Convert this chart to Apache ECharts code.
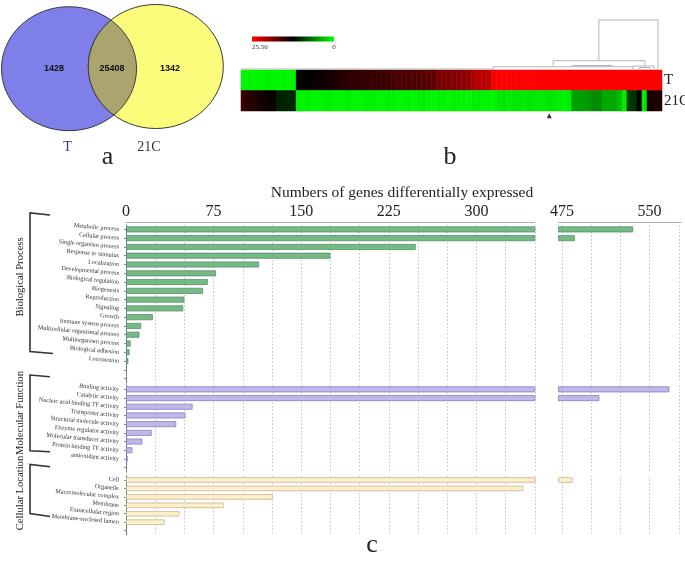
<!DOCTYPE html>
<html><head><meta charset="utf-8">
<script src="https://cdn.jsdelivr.net/npm/echarts@6/dist/echarts.min.js"></script>
<style>html,body{margin:0;padding:0;background:#fff}#c{width:685px;height:565px}</style>
</head><body><div id="c"></div>
<script>
// ---------- DATA ----------
// (a) Venn
const vennSets = ['T', '21C'];
const vennRegions = ['T only', 'T and 21C', '21C only'];
const vennCounts = [1428, 25408, 1342];

// (b) heatmap
const heatRows = ['T', '21C'];
const heatMin = 0;
const heatMax = 25.56;
const heatT = [
  0.4,0.6,0.3,0.5,0.4,0.7,0.5,0.3,0.6,0.4,0.5,
  12.9,13.0,13.0,13.1,13.4,13.6,13.8,14.0,14.3,14.8,
  15.0,15.1,15.2,15.3,15.4,15.5,15.6,15.8,16.0,16.1,
  16.3,16.4,16.5,16.7,16.8,17.0,17.2,17.5,18.8,19.0,
  19.1,19.3,19.5,19.6,20.0,21.5,21.8,22.0,22.2,
  25.4,25.5,25.5,25.5,25.4,25.5,25.5,25.5,25.5,25.4,
  25.5,25.5,25.5,25.5,25.5,25.4,25.5,25.5,25.5,25.5,
  25.5,25.5,25.4,25.5,25.5,25.5,25.5,25.5,25.5,25.5,
  25.4,25.5,25.5,25.5
];
const heat21C = [
  15.8,14.8,14.6,14.2,13.6,13.4,13.2,11.2,11.0,10.8,11.0,
  0.6,0.4,0.8,0.5,0.3,0.7,0.9,0.5,0.4,0.6,
  0.8,0.5,0.3,0.6,0.9,0.7,0.4,0.5,0.8,0.6,
  0.3,0.5,0.7,0.4,0.6,0.9,0.5,0.3,0.7,0.6,
  0.4,0.8,0.5,0.6,0.3,0.7,0.9,0.5,0.6,0.4,
  1.0,1.3,0.8,1.1,1.2,0.9,1.4,1.1,0.7,1.0,
  1.3,1.2,0.8,0.6,0.9,
  4.8,4.8,4.8,5.2,5.8,5.8,4.3,4.3,4.3,3.3,1.0,9.8,10.2,12.8,0.8,14.0,14.3,14.3
];
const heatMarkerCol = 61;
// dendrogram segments: [col1, height1, col2, height2]
const dendroSegments = [
  [71.4,50, 83.2,50], [71.4,50, 71.4,9.3], [83.2,50, 83.2,1.5],
  [62.3,9.3, 80.6,9.3], [62.3,9.3, 62.3,4.5], [80.6,9.3, 80.6,4],
  [50.3,3.3, 78.5,3.3], [50.3,3.3, 50.3,0.5], [66.2,4.5, 74,4.5], [66.2,4.5,66.2,3.3], [74,4.5,74,3.3],
  [78.2,4, 82.4,4], [78.2,4, 78.2,1], [82.4,4, 82.4,1], [79.5,2.5, 81.6,2.5], [79.5,2.5,79.5,0.5], [81.6,2.5,81.6,0.5],
  [0,1, 50.3,1]
];

// (c) GO classification
const bpCats = ['Metabolic process','Cellular process','Single organism process','Response to stimulus','Localization','Developmental process','Biological regulation','Biogenesis','Reproduction','Signaling','Growth','Immune system process','Multicellular organismal process','Multiorganism process','Biological adhesion','Locomotion'];
const bpVals = [536,486,248,175,114,77,70,66,50,49,23,13,11.5,4,3,2];
const mfCats = ['Binding activity','Catalytic activity','Nucleic acid binding TF activity','Transporter activity','Structural molecule activity','Enzyme regulator activity','Molecular transducer activity','Protein binding TF activity','antioxidant activity'];
const mfVals = [567,507,57,51,43,22,14,5.5,1.5];
const ccCats = ['Cell','Organelle','Macromolecular complex','Membrane','Extracellular region','Membrane-enclosed lumen'];
const ccVals = [484,340,125.6,84,45.6,33];
const groupNames = ['Biological Process','Molecular Function','Cellular Location'];
const leftTickLabels = [0,75,150,225,300];
const rightTickLabels = [475,550];
const rightGridValues = [475,500,525,550,575];
const axisTitle = 'Numbers of genes differentially expressed';

// ---------- LAYOUT / STYLE ----------
const SERIF = '"Liberation Serif","Times New Roman",serif';
const SANS = '"Liberation Sans",Arial,sans-serif';
const LEFT_MAX = 350, RIGHT_MIN = 472, RIGHT_MAX = 577;
const LX = 126, LW = 408.8, RX = 558.5, RW = 122.6;
const sections = [
  {cats: bpCats, vals: bpVals, top: 225, height: 158, catMax: 17, fill: '#74b986', stroke: '#5b9169', bw: 6},
  {cats: mfCats, vals: mfVals, top: 385, height: 87, catMax: 9, fill: '#bdb7ea', stroke: '#8a82b5', bw: 6},
  {cats: ccCats, vals: ccVals, top: 475.8, height: 59, catMax: 6, fill: '#fcefc9', stroke: '#c5b693', bw: 5.5}
];
const heatColors = ['#00ff00', '#000000', '#ff0000'];

const grids = [], xAxes = [], yAxes = [], series = [];
sections.forEach((s, k) => {
  const gl = grids.length;
  grids.push({left: LX, top: s.top, width: LW, height: s.height, outerBoundsMode: 'none'});
  grids.push({left: RX, top: s.top, width: RW, height: s.height, outerBoundsMode: 'none'});
  const first = k === 0;
  const split = {show: true, lineStyle: {type: [1.5, 2], color: '#c2c2c2', width: 1}};
  xAxes.push({gridIndex: gl, type: 'value', min: 0, max: LEFT_MAX, interval: 25, position: 'top', offset: first ? 3 : 0,
    axisLine: {show: first, lineStyle: {color: '#aab0c8'}}, axisTick: {show: false},
    axisLabel: {show: first, margin: 2, fontFamily: SERIF, fontSize: 16, color: '#222',
      formatter: v => leftTickLabels.includes(v) ? String(v) : ''},
    splitLine: split});
  xAxes.push({gridIndex: gl + 1, type: 'value', min: RIGHT_MIN, max: RIGHT_MAX, position: 'top', offset: first ? 3 : 0,
    axisLine: {show: first, lineStyle: {color: '#aab0c8'}}, axisTick: {show: false, customValues: rightGridValues},
    axisLabel: {show: first, margin: 2, fontFamily: SERIF, fontSize: 16, color: '#222', customValues: rightTickLabels},
    splitLine: split});
  yAxes.push({gridIndex: gl, type: 'category', data: s.cats, inverse: true, max: s.catMax,
    axisLine: {show: true, lineStyle: {color: '#7a7a7a'}}, axisTick: {show: true, length: 2, alignWithLabel: true, lineStyle: {color: '#888'}},
    splitLine: {show: false},
    axisLabel: {margin: 7, rotate: -5, fontFamily: SERIF, fontSize: 6.2, color: '#333', interval: 0,
      formatter: (v, i) => i < s.cats.length ? v : ''}});
  yAxes.push({gridIndex: gl + 1, type: 'category', data: s.cats, inverse: true, max: s.catMax, show: false});
  const st = {color: s.fill, borderColor: s.stroke, borderWidth: 0.8};
  series.push({type: 'bar', xAxisIndex: gl, yAxisIndex: gl, data: s.vals, barWidth: s.bw, itemStyle: st, clip: true, silent: true});
  series.push({type: 'bar', xAxisIndex: gl + 1, yAxisIndex: gl + 1, data: s.vals.map(v => v > RIGHT_MIN ? v : '-'), barWidth: s.bw, itemStyle: st, clip: true, silent: true});
});

// heatmap grid
const hg = grids.length;
grids.push({left: 241, top: 70, width: 421, height: 41, outerBoundsMode: 'none'});
xAxes.push({gridIndex: hg, type: 'category', data: heatT.map((_, i) => String(i)), show: false});
yAxes.push({gridIndex: hg, type: 'category', data: heatRows, inverse: true, position: 'right',
  axisLine: {show: false}, axisTick: {show: false}, splitLine: {show: false},
  axisLabel: {margin: 2, fontFamily: SERIF, fontSize: 15, color: '#222'}});
const heatData = [];
heatT.forEach((v, i) => heatData.push([i, 0, v]));
heat21C.forEach((v, i) => heatData.push([i, 1, v]));
series.push({type: 'heatmap', xAxisIndex: hg, yAxisIndex: hg, data: heatData, silent: true, itemStyle: {borderWidth: 0}});
series.push({type: 'scatter', xAxisIndex: hg, yAxisIndex: hg, data: [[heatMarkerCol, 1]], symbol: 'triangle',
  symbolSize: [5, 5], symbolOffset: [0, 15], itemStyle: {color: '#000'}, clip: false, silent: true});

// dendrogram grid
const dg = grids.length;
grids.push({left: 241, top: 20, width: 421, height: 50, outerBoundsMode: 'none'});
xAxes.push({gridIndex: dg, type: 'value', min: 0, max: heatT.length, show: false});
yAxes.push({gridIndex: dg, type: 'value', min: 0, max: 50, show: false});
series.push({type: 'custom', xAxisIndex: dg, yAxisIndex: dg, data: dendroSegments, encode: {x: [0, 2], y: [1, 3]}, silent: true, clip: false,
  renderItem: (p, api) => {
    const a = api.coord([api.value(0), api.value(1)]);
    const b = api.coord([api.value(2), api.value(3)]);
    return {type: 'line', shape: {x1: a[0], y1: a[1], x2: b[0], y2: b[1]}, style: {stroke: '#b5b5b5', lineWidth: 1}};
  }});

// Venn (layout constants)
const V = {c1: [69, 68.7], c2: [155.8, 66.5], rx: 67.5, ry: 62};
function lensPoints() {
  const p1 = [V.c1[0] / V.rx, V.c1[1] / V.ry], p2 = [V.c2[0] / V.rx, V.c2[1] / V.ry];
  const dx = p2[0] - p1[0], dy = p2[1] - p1[1];
  const d = Math.hypot(dx, dy), base = Math.atan2(dy, dx), half = Math.acos(d / 2);
  const pts = [], N = 40;
  for (let k = 0; k <= N; k++) { const t = base - half + 2 * half * k / N; pts.push([(p1[0] + Math.cos(t)) * V.rx, (p1[1] + Math.sin(t)) * V.ry]); }
  for (let k = 0; k <= N; k++) { const t = base + Math.PI - half + 2 * half * k / N; pts.push([(p2[0] + Math.cos(t)) * V.rx, (p2[1] + Math.sin(t)) * V.ry]); }
  return pts;
}
const numPos = [[54, 69], [112, 69], [170, 69]];
const numFont = 'bold 9px ' + SANS;
series.push({type: 'custom', coordinateSystem: 'none', silent: true,
  data: vennCounts.map((v, i) => ({name: vennRegions[i], value: v})),
  renderItem: (p, api) => {
    const i = p.dataIndex, val = String(api.value(0));
    const txt = {type: 'text', z2: 10, style: {text: val, x: numPos[i][0], y: numPos[i][1], font: numFont, fill: '#111', align: 'center', verticalAlign: 'middle'}};
    if (i === 0) return {type: 'group', children: [
      {type: 'ellipse', z2: 1, shape: {cx: V.c1[0], cy: V.c1[1], rx: V.rx, ry: V.ry}, style: {fill: '#7f7fe9', stroke: '#3a3a3a', lineWidth: 1}}, txt,
      {type: 'text', z2: 10, style: {text: vennSets[0], x: 67.5, y: 147, font: '14px ' + SERIF, fill: '#35358f', align: 'center', verticalAlign: 'middle'}}]};
    if (i === 2) return {type: 'group', children: [
      {type: 'ellipse', z2: 2, shape: {cx: V.c2[0], cy: V.c2[1], rx: V.rx, ry: V.ry}, style: {fill: '#fbfb7c', stroke: '#3a3a3a', lineWidth: 1}}, txt,
      {type: 'text', z2: 10, style: {text: vennSets[1], x: 149, y: 147, font: '14px ' + SERIF, fill: '#333', align: 'center', verticalAlign: 'middle'}}]};
    return {type: 'group', children: [
      {type: 'polygon', z2: 5, shape: {points: lensPoints()}, style: {fill: '#aaa56e', stroke: '#3a3a3a', lineWidth: 1}}, txt]};
  }});

// ---------- GRAPHIC ANNOTATIONS ----------
const bracketStyle = {stroke: '#333', lineWidth: 1.6, fill: null};
const groupFont = '10.6px ' + SERIF;
const graphic = [
  {type: 'polyline', shape: {points: [[50, 215], [30, 213], [30, 351.5], [53, 353.5]]}, style: bracketStyle},
  {type: 'polyline', shape: {points: [[50, 376.7], [30, 375], [30, 450.7], [50, 451.8]]}, style: bracketStyle},
  {type: 'polyline', shape: {points: [[50, 466.7], [30, 464.5], [30, 513.5], [50, 516.5]]}, style: bracketStyle},
  {type: 'text', x: 20, y: 277, rotation: Math.PI / 2, style: {text: groupNames[0], font: groupFont, fill: '#222', align: 'center', verticalAlign: 'middle'}},
  {type: 'text', x: 20, y: 413, rotation: Math.PI / 2, style: {text: groupNames[1], font: groupFont, fill: '#222', align: 'center', verticalAlign: 'middle'}},
  {type: 'text', x: 20, y: 493, rotation: Math.PI / 2, style: {text: groupNames[2], font: groupFont, fill: '#222', align: 'center', verticalAlign: 'middle'}},
  {type: 'rect', shape: {x: 252, y: 36.5, width: 82, height: 5}, style: {fill: new echarts.graphic.LinearGradient(0, 0, 1, 0, [
    {offset: 0, color: heatColors[2]}, {offset: 0.5, color: heatColors[1]}, {offset: 1, color: heatColors[0]}])}},
  {type: 'text', style: {text: String(heatMax), x: 252, y: 47.5, font: '7px ' + SERIF, fill: '#333', align: 'left', verticalAlign: 'middle'}},
  {type: 'text', style: {text: String(heatMin), x: 334, y: 47.5, font: '7px ' + SERIF, fill: '#333', align: 'center', verticalAlign: 'middle'}},
  {type: 'text', style: {text: 'a', x: 107.5, y: 157, font: '26px ' + SERIF, fill: '#222', align: 'center', verticalAlign: 'middle'}},
  {type: 'text', style: {text: 'b', x: 450, y: 157, font: '26px ' + SERIF, fill: '#222', align: 'center', verticalAlign: 'middle'}},
  {type: 'text', style: {text: 'c', x: 372, y: 545, font: '26px ' + SERIF, fill: '#222', align: 'center', verticalAlign: 'middle'}}
];

const chart = echarts.init(document.getElementById('c'), null, {renderer: 'canvas'});
chart.setOption({
  backgroundColor: '#fff',
  animation: false,
  title: {text: axisTitle, left: 397, top: 180, textAlign: 'center',
    textStyle: {fontFamily: SERIF, fontSize: 15.5, fontWeight: 'normal', color: '#222'}},
  grid: grids, xAxis: xAxes, yAxis: yAxes,
  visualMap: {type: 'continuous', show: false, min: heatMin, max: heatMax, seriesIndex: series.findIndex(s => s.type === 'heatmap'),
    inRange: {color: heatColors}},
  graphic: graphic,
  series: series
});
</script></body></html>
